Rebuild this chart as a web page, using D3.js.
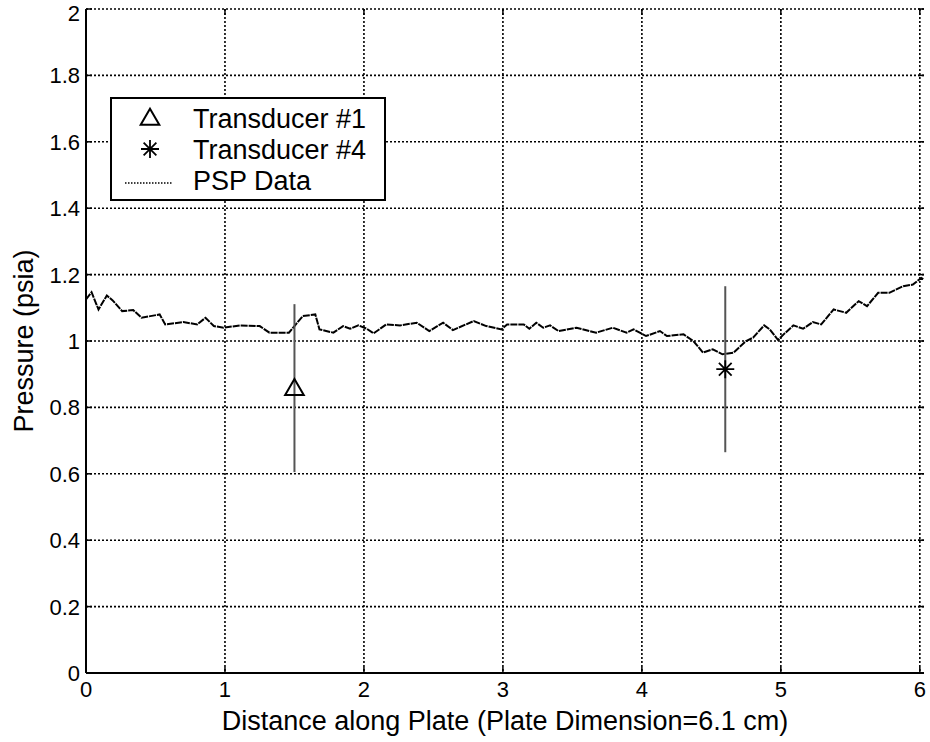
<!DOCTYPE html>
<html>
<head>
<meta charset="utf-8">
<script src="https://cdn.jsdelivr.net/npm/d3@7"></script>
<style>
  html, body { margin: 0; padding: 0; background: #fff; }
</style>
</head>
<body>
<div id="chart"></div>
<script>
// PSP data trace (distance cm, pressure psia)
var pspX = [0.00, 0.04, 0.09, 0.15, 0.19, 0.26, 0.34, 0.40, 0.53, 0.57, 0.70, 0.80, 0.86, 0.92, 0.99,
	1.11, 1.25, 1.32, 1.46, 1.50, 1.56, 1.65, 1.68, 1.78, 1.85, 1.90, 1.96, 2.02, 2.07, 2.16, 2.26,
	2.38, 2.47, 2.57, 2.64, 2.79, 2.88, 2.99, 3.03, 3.15, 3.19, 3.24, 3.29, 3.34, 3.40, 3.53, 3.67,
	3.79, 3.89, 3.94, 4.03, 4.13, 4.18, 4.30, 4.37, 4.44, 4.51, 4.58, 4.66, 4.75, 4.80, 4.88, 4.92,
	4.98, 5.02, 5.09, 5.16, 5.23, 5.29, 5.38, 5.47, 5.56, 5.62, 5.70, 5.78, 5.88, 5.95, 6.01, 6.03];
var pspY = [1.125, 1.147, 1.095, 1.137, 1.123, 1.090, 1.093, 1.070, 1.080, 1.050, 1.057, 1.050, 1.070, 1.045, 1.040,
	1.047, 1.045, 1.025, 1.025, 1.045, 1.075, 1.080, 1.035, 1.025, 1.045, 1.037, 1.047, 1.037, 1.023, 1.050, 1.047,
	1.055, 1.030, 1.055, 1.033, 1.060, 1.045, 1.035, 1.050, 1.050, 1.037, 1.055, 1.040, 1.047, 1.030, 1.040, 1.025,
	1.040, 1.025, 1.035, 1.015, 1.030, 1.015, 1.020, 1.000, 0.965, 0.975, 0.960, 0.965, 1.000, 1.010, 1.047, 1.035,
	1.003, 1.020, 1.047, 1.037, 1.057, 1.050, 1.095, 1.085, 1.120, 1.105, 1.145, 1.145, 1.165, 1.170, 1.190, 1.185];

// Transducer readings with error bars
var transducerNames = ['Transducer #1', 'Transducer #4'];
var transducerX = [1.5, 4.6];
var transducerY = [0.858, 0.915];
var transducerErr = [0.253, 0.25];
var transducerMarkers = ['triangle', 'star'];

// Axis ticks
var xTicks = [0, 1, 2, 3, 4, 5, 6];
var yTicks = [0, 0.2, 0.4, 0.6, 0.8, 1, 1.2, 1.4, 1.6, 1.8, 2];
var xTitle = 'Distance along Plate (Plate Dimension=6.1 cm)';
var yTitle = 'Pressure (psia)';

function Chart() {
	var attrs = {
		svgWidth: 930,
		svgHeight: 742,
		plotLeft: 86,
		plotRight: 924,
		plotTop: 9,
		plotBottom: 673,
		xMax: 6.03,
		container: 'body',
		defaultFont: '"Liberation Sans", Arial, Helvetica, sans-serif'
	};

	var main = function() {
		var container = d3.select(attrs.container);

		var svg = container.patternify({ tag: 'svg', selector: 'svg-chart-container' })
			.attr('width', attrs.svgWidth)
			.attr('height', attrs.svgHeight)
			.attr('font-family', attrs.defaultFont);

		var x = d3.scaleLinear().domain([0, attrs.xMax]).range([attrs.plotLeft, attrs.plotRight]);
		var y = d3.scaleLinear().domain([0, 2]).range([attrs.plotBottom, attrs.plotTop]);

		svg.append('rect').attr('width', attrs.svgWidth).attr('height', attrs.svgHeight).attr('fill', '#fff');

		// grid (dotted)
		var grid = svg.patternify({ tag: 'g', selector: 'grid' });
		grid.selectAll('.vgrid').data(xTicks.filter(d => d > 0)).enter().append('line')
			.attr('class', 'vgrid')
			.attr('x1', d => x(d)).attr('x2', d => x(d))
			.attr('y1', attrs.plotTop).attr('y2', attrs.plotBottom);
		grid.selectAll('.hgrid').data(yTicks.filter(d => d > 0)).enter().append('line')
			.attr('class', 'hgrid')
			.attr('x1', attrs.plotLeft).attr('x2', attrs.plotRight)
			.attr('y1', d => y(d)).attr('y2', d => y(d));
		grid.selectAll('line')
			.attr('stroke', '#000').attr('stroke-width', 1.6).attr('stroke-dasharray', '2,2');

		// small inward ticks
		var ticks = svg.patternify({ tag: 'g', selector: 'ticks' });
		ticks.selectAll('.yt').data(yTicks).enter().append('line')
			.attr('x1', attrs.plotLeft).attr('x2', attrs.plotLeft + 6)
			.attr('y1', d => y(d)).attr('y2', d => y(d));
		ticks.selectAll('.yt2').data(yTicks).enter().append('line')
			.attr('x1', attrs.plotRight).attr('x2', attrs.plotRight - 6)
			.attr('y1', d => y(d)).attr('y2', d => y(d));
		ticks.selectAll('.xt').data(xTicks).enter().append('line')
			.attr('x1', d => x(d)).attr('x2', d => x(d))
			.attr('y1', attrs.plotBottom).attr('y2', attrs.plotBottom - 6);
		ticks.selectAll('.xt2').data(xTicks).enter().append('line')
			.attr('x1', d => x(d)).attr('x2', d => x(d))
			.attr('y1', attrs.plotTop).attr('y2', attrs.plotTop + 6);
		ticks.selectAll('line').attr('stroke', '#000').attr('stroke-width', 1.5);

		// PSP line
		var pts = pspX.map((d, i) => [d, pspY[i]]);
		var line = d3.line().x(d => x(d[0])).y(d => y(d[1]));
		svg.append('path').datum(pts)
			.attr('d', line)
			.attr('fill', 'none')
			.attr('stroke', '#000')
			.attr('stroke-width', 2)
			.attr('stroke-dasharray', '7,1');

		// error bars
		svg.selectAll('.errbar').data(transducerX).enter().append('line')
			.attr('class', 'errbar')
			.attr('x1', d => x(d)).attr('x2', d => x(d))
			.attr('y1', (d, i) => y(transducerY[i] + transducerErr[i]))
			.attr('y2', (d, i) => y(transducerY[i] - transducerErr[i]))
			.attr('stroke', '#555').attr('stroke-width', 2);

		var tri = d3.symbol().type(d3.symbolTriangle).size(150);
		var star = function(r) {
			var p = '';
			for (var k = 0; k < 4; k++) {
				var a = k * Math.PI / 4;
				var dx = r * Math.cos(a), dy = r * Math.sin(a);
				p += 'M' + (-dx) + ',' + (-dy) + 'L' + dx + ',' + dy;
			}
			return p;
		};
		function drawMarker(g, type) {
			if (type === 'triangle') {
				g.append('path').attr('d', tri()).attr('transform', 'translate(0,1.5)')
					.attr('fill', 'none').attr('stroke', '#000').attr('stroke-width', 2);
			} else {
				g.append('path').attr('d', star(9))
					.attr('fill', 'none').attr('stroke', '#000').attr('stroke-width', 1.8);
			}
		}
		transducerX.forEach(function(d, i) {
			var g = svg.append('g').attr('transform', 'translate(' + x(d) + ',' + y(transducerY[i]) + ')');
			drawMarker(g, transducerMarkers[i]);
		});

		// axes
		var axisG = svg.patternify({ tag: 'g', selector: 'axes' });
		axisG.append('line')
			.attr('x1', attrs.plotLeft).attr('x2', attrs.plotLeft)
			.attr('y1', attrs.plotTop).attr('y2', attrs.plotBottom)
			.attr('stroke', '#000').attr('stroke-width', 2);
		axisG.append('line')
			.attr('x1', attrs.plotLeft).attr('x2', attrs.plotRight)
			.attr('y1', attrs.plotBottom).attr('y2', attrs.plotBottom)
			.attr('stroke', '#000').attr('stroke-width', 2);

		axisG.selectAll('.ytick').data(yTicks).enter().append('text')
			.attr('class', 'ytick')
			.attr('x', attrs.plotLeft - 6)
			.attr('y', d => Math.max(y(d), 13))
			.attr('dy', '0.36em')
			.attr('text-anchor', 'end')
			.attr('font-size', 22)
			.text(d => d3.format('~g')(d));
		axisG.selectAll('.xtick').data(xTicks).enter().append('text')
			.attr('class', 'xtick')
			.attr('x', d => x(d))
			.attr('y', attrs.plotBottom + 24)
			.attr('text-anchor', 'middle')
			.attr('font-size', 22)
			.text(d => d);

		svg.append('text')
			.attr('x', (attrs.plotLeft + attrs.plotRight) / 2)
			.attr('y', 730)
			.attr('text-anchor', 'middle')
			.attr('font-size', 27)
			.text(xTitle);
		svg.append('text')
			.attr('transform', 'translate(33,' + (attrs.plotTop + attrs.plotBottom) / 2 + ') rotate(-90)')
			.attr('text-anchor', 'middle')
			.attr('font-size', 27)
			.text(yTitle);

		// legend
		var lg = svg.append('g').attr('class', 'legend');
		lg.append('rect').attr('x', 111).attr('y', 98).attr('width', 274).attr('height', 102)
			.attr('fill', '#fff').attr('stroke', '#000').attr('stroke-width', 2);
		var rows = [128, 159, 190];
		transducerNames.forEach(function(name, i) {
			var g = lg.append('g').attr('transform', 'translate(150,' + (rows[i] - 10) + ')');
			drawMarker(g, transducerMarkers[i]);
			lg.append('text').attr('x', 193).attr('y', rows[i]).attr('font-size', 27).text(name);
		});
		lg.append('line').attr('x1', 125).attr('x2', 173).attr('y1', rows[2] - 7).attr('y2', rows[2] - 7)
			.attr('stroke', '#000').attr('stroke-width', 1.5).attr('stroke-dasharray', '1.5,1.5');
		lg.append('text').attr('x', 193).attr('y', rows[2]).attr('font-size', 27).text('PSP Data');
	};

	d3.selection.prototype.patternify = function(params) {
		var container = this;
		var selector = params.selector;
		var data = params.data || [selector];
		var selection = container.selectAll('.' + selector).data(data);
		selection.exit().remove();
		selection = selection.enter().append(params.tag).merge(selection);
		selection.attr('class', selector);
		return selection;
	};

	main.container = function(_) { attrs.container = _; return main; };
	main.render = function() { main(); return main; };
	return main;
}

Chart().container('#chart').render();
</script>
</body>
</html>
